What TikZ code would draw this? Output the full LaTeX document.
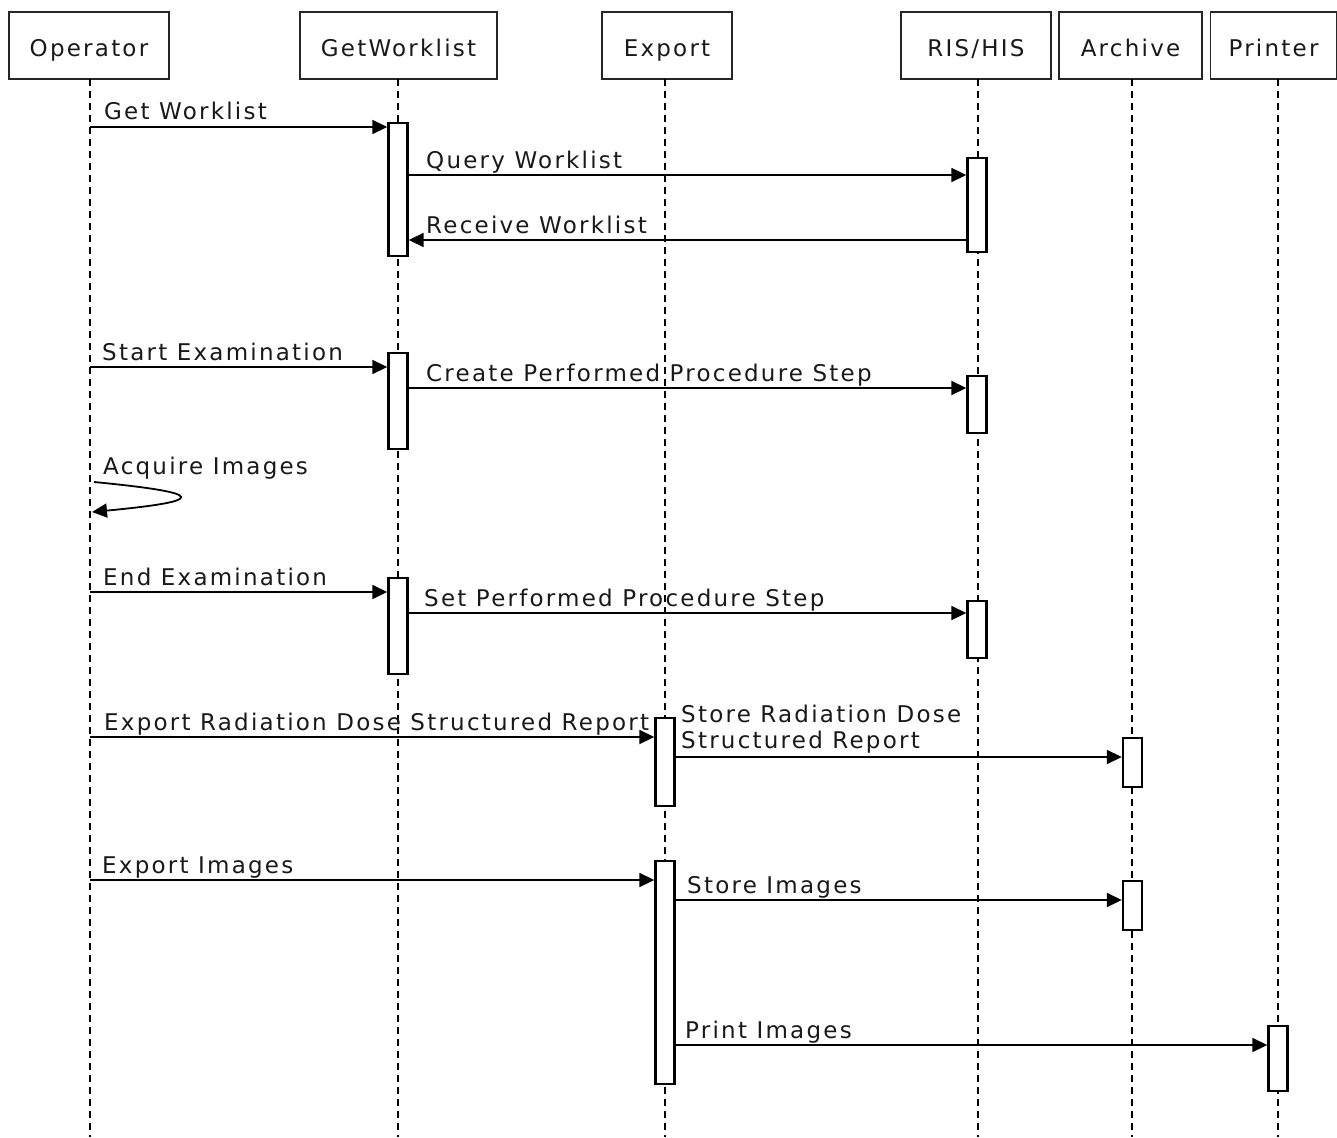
\documentclass[tikz,border=0pt]{standalone}
\usepackage{fontspec}
\newfontfamily\lblfam{DejaVu Sans}[LetterSpace=9.7]
\newcommand{\lblfont}{\lblfam\fontsize{23}{26}\selectfont}
\usetikzlibrary{arrows.meta}
\begin{document}
\begin{tikzpicture}[x=1pt,y=-1pt,
  hdr/.style={draw=black!85,line width=1.2pt,minimum height=67pt,inner sep=0pt,text height=24pt,text depth=1pt,font=\lblfont,text=black!90},
  act/.style={draw=black,fill=white,line width=2.4pt,minimum width=19pt,inner sep=0pt},
  life/.style={dash pattern=on 7pt off 5pt,line width=1.8pt},
  msg/.style={line width=1.8pt,-{Triangle[length=15pt,width=14pt]}},
  lbl/.style={anchor=base west,inner sep=0pt,font=\lblfont,text=black!90}]
\useasboundingbox (0,0) rectangle (1337,1137);
\coordinate (bot) at (0,1137);
% headers
\node[hdr,minimum width=160pt] (op) at (89,45.5) {Operator};
\node[hdr,minimum width=197pt] (gw) at (398.5,45.5) {GetWorklist};
\node[hdr,minimum width=130pt] (ex) at (667,45.5) {Export};
\node[hdr,minimum width=150pt] (ris) at (976,45.5) {RIS/HIS};
\node[hdr,minimum width=143pt] (ar) at (1130.5,45.5) {Archive};
\node[hdr,minimum width=126pt] (pr) at (1273.5,45.5) {Printer};
% lifelines
\coordinate (opL) at (90,79);
\coordinate (gwL) at (398,79);
\coordinate (exL) at (665,79);
\coordinate (risL) at (978,79);
\coordinate (arL) at (1132,79);
\coordinate (prL) at (1278,79);
\foreach \l in {opL,gwL,exL,risL,arL,prL}
  \draw[life] (\l) -- (\l |- bot);
% message rows
\coordinate (m1) at (0,127);
\coordinate (m2) at (0,175);
\coordinate (m3) at (0,240);
\coordinate (m4) at (0,367);
\coordinate (m5) at (0,388);
\coordinate (m6) at (0,592);
\coordinate (m7) at (0,613);
\coordinate (m8) at (0,737);
\coordinate (m9) at (0,757);
\coordinate (m10) at (0,880);
\coordinate (m11) at (0,900);
\coordinate (m12) at (0,1045);
% activation boxes
\node[act,minimum height=133pt] (g1) at (398,189.5) {};
\node[act,minimum height=94pt] (r1) at (977,205) {};
\node[act,minimum height=96pt] (g2) at (398,401) {};
\node[act,minimum height=57pt] (r2) at (977,404.5) {};
\node[act,minimum height=96pt] (g3) at (398,626) {};
\node[act,minimum height=57pt] (r3) at (977,629.5) {};
\node[act,minimum height=88pt] (e1) at (665,762) {};
\node[act,minimum height=49pt] (a1) at (1132.5,762.5) {};
\node[act,minimum height=223pt] (e2) at (665,972.5) {};
\node[act,minimum height=49pt] (a2) at (1132.5,905.5) {};
\node[act,minimum height=65pt] (p1) at (1278,1058.5) {};
% arrows
\draw[msg] (opL |- m1) -- (g1.west |- m1);
\draw[msg] (g1.east |- m2) -- (r1.west |- m2);
\draw[msg] (r1.west |- m3) -- (g1.east |- m3);
\draw[msg] (opL |- m4) -- (g2.west |- m4);
\draw[msg] (g2.east |- m5) -- (r2.west |- m5);
\draw[msg] ([xshift=4pt]opL |- 0,482) .. controls (208,493) and (208,501) .. ([xshift=2pt]opL |- 0,512);
\draw[msg] (opL |- m6) -- (g3.west |- m6);
\draw[msg] (g3.east |- m7) -- (r3.west |- m7);
\draw[msg] (opL |- m8) -- (e1.west |- m8);
\draw[msg] (e1.east |- m9) -- (a1.west |- m9);
\draw[msg] (opL |- m10) -- (e2.west |- m10);
\draw[msg] (e2.east |- m11) -- (a2.west |- m11);
\draw[msg] (e2.east |- m12) -- (p1.west |- m12);
% labels
\node[lbl] (t1) at (104,119) {Get Worklist};
\node[lbl] (t2) at (426,168) {Query Worklist};
\node[lbl] (t3) at (426,233) {Receive Worklist};
\node[lbl] (t4) at (102,360) {Start Examination};
\node[lbl] (t5) at (426,381) {Create Performed Procedure Step};
\node[lbl] (t6) at (103,474) {Acquire Images};
\node[lbl] (t7) at (103,585) {End Examination};
\node[lbl] (t8) at (424,606) {Set Performed Procedure Step};
\node[lbl] (t9) at (104,730) {Export Radiation Dose Structured Report};
\node[lbl,align=left] (t10) at (681,748) {Store Radiation Dose\\Structured Report};
\node[lbl] (t11) at (102,873) {Export Images};
\node[lbl] (t12) at (687,893) {Store Images};
\node[lbl] (t13) at (685,1038) {Print Images};
\end{tikzpicture}
\end{document}
